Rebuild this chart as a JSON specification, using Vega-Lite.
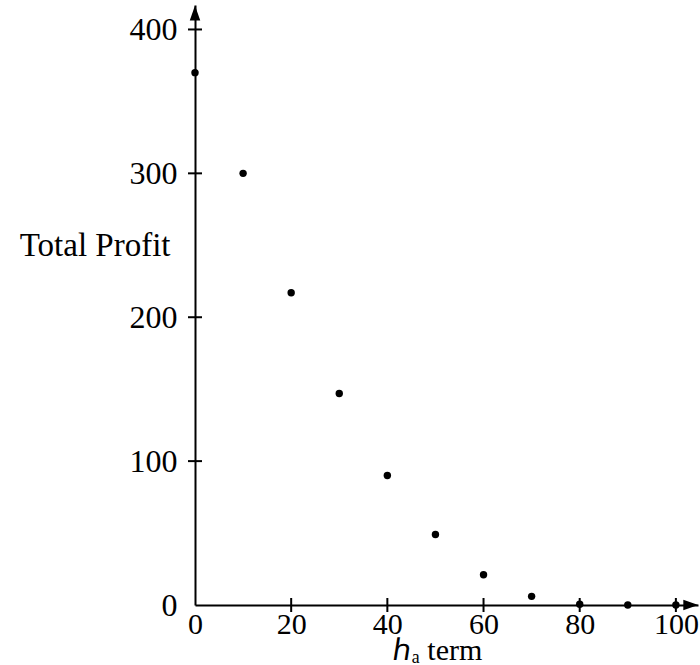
{
  "$schema": "https://vega.github.io/schema/vega-lite/v6.json",
  "width": 503,
  "height": 600,
  "autosize": {"type": "none"},
  "padding": {"left": 195, "top": 5, "right": 2, "bottom": 60},
  "background": "white",
  "config": {
    "view": {"stroke": null},
    "font": "Liberation Serif",
    "axis": {"grid": false, "domainColor": "black", "domainWidth": 2, "labelColor": "black", "titleColor": "black", "labelFont": "Liberation Serif", "titleFont": "Liberation Serif", "labelFontSize": 32, "titleFontSize": 33, "titleFontWeight": "normal", "ticks": false}
  },
  "datasets": {
    "pts": [
      {"term": 0, "profit": 370},
      {"term": 10, "profit": 300},
      {"term": 20, "profit": 217},
      {"term": 30, "profit": 147},
      {"term": 40, "profit": 90},
      {"term": 50, "profit": 49},
      {"term": 60, "profit": 21},
      {"term": 70, "profit": 6},
      {"term": 80, "profit": 0.5},
      {"term": 90, "profit": 0},
      {"term": 100, "profit": 0}
    ],
    "xticks": [{"v": 20}, {"v": 40}, {"v": 60}, {"v": 80}, {"v": 100}],
    "yticks": [{"v": 100}, {"v": 200}, {"v": 300}, {"v": 400}],
    "arrows": [{"ax": 0, "ay": 411.5, "dir": "up"}, {"ax": 103.1, "ay": 0, "dir": "right"}]
  },
  "layer": [
    {
      "data": {"name": "pts"},
      "mark": {"type": "point", "filled": true, "color": "black", "opacity": 1, "size": 55, "clip": false},
      "encoding": {
        "x": {"field": "term", "type": "quantitative", "scale": {"domain": [0, 104.6], "nice": false, "zero": false},
          "axis": {"values": [0, 20, 40, 60, 80, 100], "labelPadding": 4, "labelFontSize": 30, "title": "ℎₐ term", "titleFontSize": 30, "titleX": 242, "titleY": 54, "titleBaseline": "alphabetic", "labelFlush": false, "labelOverlap": false}},
        "y": {"field": "profit", "type": "quantitative", "scale": {"domain": [0, 417], "nice": false, "zero": false},
          "axis": {"values": [0, 100, 200, 300, 400], "labelPadding": 18, "labelBaseline": "middle", "title": "Total Profit", "titleAngle": 0, "titleAlign": "right", "titleBaseline": "middle", "titleX": -25, "titleY": 240, "labelFlush": false, "labelOverlap": false}}
      }
    },
    {
      "data": {"name": "xticks"},
      "mark": {"type": "tick", "orient": "vertical", "color": "black", "size": 14, "thickness": 2, "opacity": 1},
      "encoding": {
        "x": {"field": "v", "type": "quantitative"},
        "y": {"datum": 0, "type": "quantitative"}
      }
    },
    {
      "data": {"name": "yticks"},
      "mark": {"type": "tick", "orient": "horizontal", "color": "black", "size": 14, "thickness": 2, "opacity": 1},
      "encoding": {
        "x": {"datum": 0, "type": "quantitative"},
        "y": {"field": "v", "type": "quantitative"}
      }
    },
    {
      "data": {"name": "arrows"},
      "mark": {"type": "point", "filled": true, "color": "black", "opacity": 1, "size": 225, "clip": false},
      "encoding": {
        "x": {"field": "ax", "type": "quantitative"},
        "y": {"field": "ay", "type": "quantitative"},
        "shape": {"field": "dir", "type": "nominal", "scale": {"domain": ["up", "right"], "range": ["M0,-1L0.7,1L-0.7,1Z", "M1,0L-1,-0.7L-1,0.7Z"]}, "legend": null}
      }
    }
  ]
}
